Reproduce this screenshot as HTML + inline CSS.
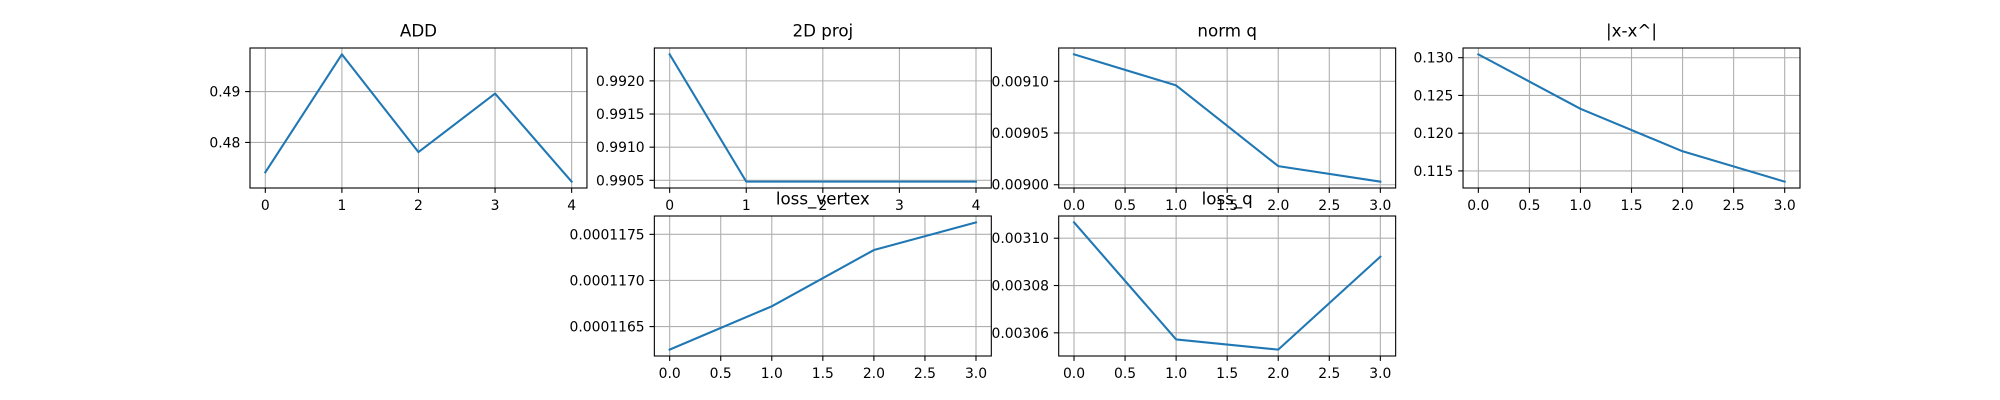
<!DOCTYPE html>
<html><head><meta charset="utf-8"><style>
html,body{margin:0;padding:0;background:#fff;}
svg{display:block;font-family:"DejaVu Sans","Liberation Sans",sans-serif;}
</style></head><body>
<svg id="fig" width="2000" height="400" viewBox="0 0 2000 400" xmlns="http://www.w3.org/2000/svg"></svg>
<script>
const titles = ["ADD","2D proj","norm q","|x-x^|","loss_vertex","loss_q"];
const addValues = [0.47412,0.49732,0.47810,0.48961,0.47229];
const projValues = [0.99240,0.99048,0.99048,0.99048,0.99048];
const normQValues = [0.009126,0.009096,0.009018,0.009003];
const xErrValues = [0.13044,0.12323,0.11760,0.11358];
const lossVertexValues = [0.00011625,0.00011672,0.00011733,0.00011763];
const lossQValues = [0.0031067,0.0030572,0.0030529,0.0030922];
const addYTicks = [0.48,0.49];
const addYLabels = ["0.48","0.49"];
const projYTicks = [0.9905,0.9910,0.9915,0.9920];
const projYLabels = ["0.9905","0.9910","0.9915","0.9920"];
const normQYTicks = [0.00900,0.00905,0.00910];
const normQYLabels = ["0.00900","0.00905","0.00910"];
const xErrYTicks = [0.115,0.120,0.125,0.130];
const xErrYLabels = ["0.115","0.120","0.125","0.130"];
const lossVertexYTicks = [0.0001165,0.0001170,0.0001175];
const lossVertexYLabels = ["0.0001165","0.0001170","0.0001175"];
const lossQYTicks = [0.00306,0.00308,0.00310];
const lossQYLabels = ["0.00306","0.00308","0.00310"];
const intXTicks = [0,1,2,3,4];
const intXLabels = ["0","1","2","3","4"];
const halfXTicks = [0,0.5,1,1.5,2,2.5,3];
const halfXLabels = ["0.0","0.5","1.0","1.5","2.0","2.5","3.0"];

const NS="http://www.w3.org/2000/svg";
const fig=document.getElementById('fig');
function mk(tag,attrs,parent){const e=document.createElementNS(NS,tag);for(const k in attrs)e.setAttribute(k,attrs[k]);(parent||fig).appendChild(e);return e;}

const W=336.96, H=140;
const cols=[250,654.35,1058.7,1463.04];
const rows=[48,216];
const panels=[
 {key:"add",col:0,row:0,vals:addValues,yt:addYTicks,yl:addYLabels,xt:intXTicks,xl:intXLabels},
 {key:"2d-proj",col:1,row:0,vals:projValues,yt:projYTicks,yl:projYLabels,xt:intXTicks,xl:intXLabels},
 {key:"norm-q",col:2,row:0,vals:normQValues,yt:normQYTicks,yl:normQYLabels,xt:halfXTicks,xl:halfXLabels},
 {key:"x-err",col:3,row:0,vals:xErrValues,yt:xErrYTicks,yl:xErrYLabels,xt:halfXTicks,xl:halfXLabels},
 {key:"loss-vertex",col:1,row:1,vals:lossVertexValues,yt:lossVertexYTicks,yl:lossVertexYLabels,xt:halfXTicks,xl:halfXLabels},
 {key:"loss-q",col:2,row:1,vals:lossQValues,yt:lossQYTicks,yl:lossQYLabels,xt:halfXTicks,xl:halfXLabels}
];
panels.forEach((p,i)=>{
  const L=cols[p.col], T=rows[p.row];
  const g=mk('g',{});
  
  
  const n=p.vals.length;
  const xmin=-0.05*(n-1), xmax=(n-1)*1.05;
  let lo=Math.min(...p.vals), hi=Math.max(...p.vals), r=hi-lo;
  const ymin=lo-0.05*r, ymax=hi+0.05*r;
  const sx=v=>L+(v-xmin)/(xmax-xmin)*W;
  const sy=v=>T+H-(v-ymin)/(ymax-ymin)*H;
  // grid
  p.xt.forEach((t,k)=>{
    const x=sx(t);
    const gl=mk('line',{x1:x,x2:x,y1:T,y2:T+H,stroke:'#b0b0b0','stroke-width':1.1},g);
    
    
    mk('line',{x1:x,x2:x,y1:T+H,y2:T+H+4.9,stroke:'#000','stroke-width':1.1},g);
    const tx=mk('text',{x:x,y:T+H+22,'font-size':13.9,'text-anchor':'middle',fill:'#000'},g);
    tx.textContent=p.xl[k];
    
    
  });
  p.yt.forEach((t,k)=>{
    const y=sy(t);
    const gl=mk('line',{x1:L,x2:L+W,y1:y,y2:y,stroke:'#b0b0b0','stroke-width':1.1},g);
    
    
    mk('line',{x1:L-4.9,x2:L,y1:y,y2:y,stroke:'#000','stroke-width':1.1},g);
    const tx=mk('text',{x:L-9.7,y:y+5,'font-size':13.9,'text-anchor':'end',fill:'#000'},g);
    tx.textContent=p.yl[k];
    
    
  });
  const pts=p.vals.map((v,k)=>sx(k).toFixed(2)+','+sy(v).toFixed(2)).join(' ');
  const line=mk('polyline',{points:pts,fill:'none',stroke:'#1f77b4','stroke-width':2.08,'stroke-linejoin':'round','stroke-linecap':'square'},g);
  
  
  const fr=mk('rect',{x:L,y:T,width:W,height:H,fill:'none',stroke:'#000','stroke-width':1.1},g);
  
  
  const tt=mk('text',{x:L+W/2,y:T-8.3-3,'font-size':16.7,'text-anchor':'middle',fill:'#000'},g);
  tt.textContent=titles[i];
  
  
});
</script>
</body></html>
